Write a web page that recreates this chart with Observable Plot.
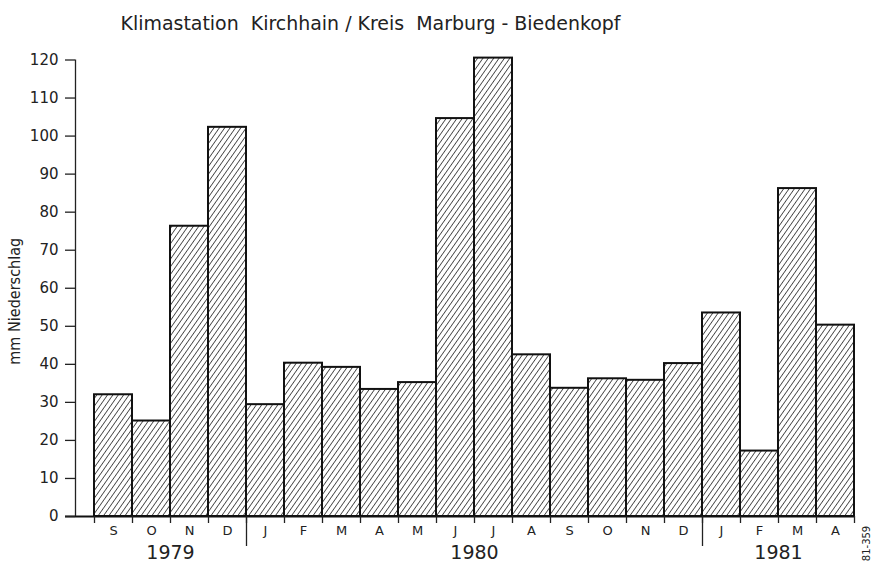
<!DOCTYPE html>
<html><head><meta charset="utf-8">
<script src="https://cdn.jsdelivr.net/npm/d3@7"></script>
<script src="https://cdn.jsdelivr.net/npm/@observablehq/plot@0.6"></script>
<style>body{margin:0;background:#fff}</style>
</head><body><div id="chart"></div>
<script>
const months = ["S","O","N","D","J","F","M","A","M","J","J","A","S","O","N","D","J","F","M","A"];
const precipitation = [32, 25.1, 76.3, 102.3, 29.4, 40.3, 39.2, 33.4, 35.2, 104.6, 120.5, 42.5, 33.7, 36.2, 35.8, 40.2, 53.5, 17.2, 86.2, 50.3];
const years = ["1979", "1980", "1981"];
const yearStart = [0, 4, 16];
const yearEnd = [4, 16, 20];
const yTicks = [0, 10, 20, 30, 40, 50, 60, 70, 80, 90, 100, 110, 120];
const title = "Klimastation  Kirchhain / Kreis  Marburg - Biedenkopf";
const yLabel = "mm Niederschlag";
const figureId = "81-359";

const bars = months.map((m, i) => ({i, month: m, value: precipitation[i]}));
const yearCenters = years.map((y, k) => (yearStart[k] + yearEnd[k]) / 2);
const font = "'DejaVu Sans', sans-serif";

const plot = Plot.plot({
  width: 876, height: 564,
  marginLeft: 75, marginRight: 22, marginTop: 59.5, marginBottom: 48,
  style: {fontFamily: font, color: "#222", background: "#fff"},
  x: {domain: [-0.5, months.length]},
  y: {domain: [0, 120]},
  marks: [
    Plot.rect(bars, {x1: "i", x2: d => d.i + 1, y1: 0, y2: "value", fill: "url(#hatch)", stroke: "#111", strokeWidth: 2}),
    Plot.ruleY([0], {insetLeft: -10, stroke: "#111", strokeWidth: 2}),
    Plot.ruleX([-0.5], {y1: 0, y2: 120, stroke: "#222", strokeWidth: 1.3}),
    Plot.axisY({ticks: yTicks, tickSize: 10, tickPadding: 7, fontSize: 15, label: null, strokeWidth: 1.3}),
    Plot.axisX({ticks: d3.range(0, months.length + 1), tickSize: 7, tickFormat: () => "", label: null, strokeWidth: 1.3}),
    Plot.axisX({ticks: yearStart.slice(1), tickSize: 30, tickFormat: () => "", label: null, strokeWidth: 1.3}),
    Plot.axisX({ticks: months.map((m, i) => i + 0.5), tickSize: 0, tickPadding: 9, tickFormat: d => months[Math.floor(d)], fontSize: 13, label: null}),
    Plot.axisX({ticks: yearCenters, tickSize: 0, tickPadding: 29, tickFormat: d => years[yearCenters.indexOf(d)], fontSize: 19, label: null}),
    Plot.text([yLabel], {text: d => d, frameAnchor: "left", textAnchor: "middle", lineAnchor: "middle", rotate: -90, dx: -60, dy: 13, fontSize: 15}),
    Plot.text([title], {text: d => d, frameAnchor: "top-left", textAnchor: "start", lineAnchor: "bottom", dx: 45, dy: -30.5, fontSize: 20}),
    Plot.text([figureId], {text: d => d, frameAnchor: "bottom-right", textAnchor: "middle", lineAnchor: "middle", rotate: -90, dx: 12, dy: 27, fontSize: 10})
  ]
});

const svg = d3.select(plot);
svg.insert("defs", ":first-child").html(
  `<pattern id="hatch" patternUnits="userSpaceOnUse" width="4.4" height="10" patternTransform="rotate(35)">
     <rect width="4.4" height="10" fill="#fff"/>
     <line x1="2.2" y1="0" x2="2.2" y2="10" stroke="#333" stroke-width="0.85"/>
   </pattern>`);
svg.selectAll("text").filter(function() { return this.textContent === title; })
  .attr("textLength", 500).attr("lengthAdjust", "spacingAndGlyphs").style("white-space", "pre");
svg.selectAll("text").filter(function() { return this.textContent === yLabel; })
  .attr("textLength", 127).attr("lengthAdjust", "spacingAndGlyphs");
document.getElementById("chart").appendChild(plot);
</script>
</body></html>
